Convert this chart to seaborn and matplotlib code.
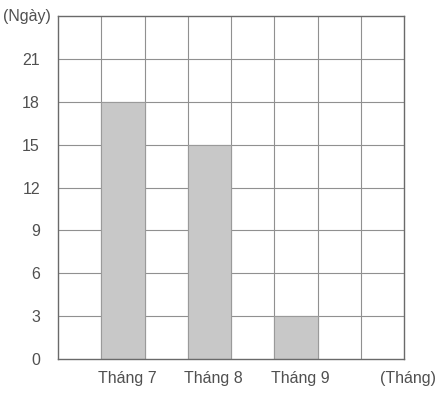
import matplotlib
matplotlib.use("Agg")
import matplotlib.pyplot as plt
import matplotlib.transforms as mtransforms
import seaborn as sns
import pandas as pd

months = ["Tháng 7", "Tháng 8", "Tháng 9"]
days = [18, 15, 3]
y_ticks = [0, 3, 6, 9, 12, 15, 18, 21]
x_unit = "(Tháng)"
y_unit = "(Ngày)"

positions = [1.5, 3.5, 5.5]
df = pd.DataFrame({"pos": positions, "days": days, "month": months})

sns.set_style("white")
plt.rcParams['font.family'] = ['Liberation Sans', 'DejaVu Sans']

fig = plt.figure(figsize=(4.4, 3.93), dpi=100)
ax = fig.add_axes([58/440, 1 - 359/393, 346/440, 343/393])

sns.barplot(data=df, x="pos", y="days", native_scale=True, width=0.5,
            color="#c8c8c8", edgecolor="#9a9a9a", linewidth=0.8,
            saturation=1, ax=ax, zorder=3)

ax.set_xlim(0, 8)
ax.set_ylim(0, 24)
for i in range(1, 8):
    ax.axvline(i, color="#909090", lw=0.8, zorder=1)
for v in range(3, 24, 3):
    ax.axhline(v, color="#909090", lw=0.8, zorder=1)

ax.set_xticks(positions + [8])
ax.set_xticklabels(months + [x_unit])
ax.set_yticks(y_ticks)
ax.set_yticklabels([str(v) for v in y_ticks])
ax.tick_params(axis="both", length=0, labelsize=11.5, colors="#505050")
ax.tick_params(axis="y", pad=13)
ax.tick_params(axis="x", pad=9)
shift = mtransforms.ScaledTranslation(4/100, 0, fig.dpi_scale_trans)
for lab in ax.get_xticklabels():
    lab.set_transform(lab.get_transform() + shift)

ax.text(27/440, 24, y_unit, transform=mtransforms.blended_transform_factory(fig.transFigure, ax.transData),
        ha="center", va="center", fontsize=11.5, color="#505050")

ax.set_xlabel("")
ax.set_ylabel("")
for s in ax.spines.values():
    s.set_color("#6a6a6a")
    s.set_linewidth(1.0)
    s.set_zorder(4)

fig.savefig("out.png", dpi=100)
